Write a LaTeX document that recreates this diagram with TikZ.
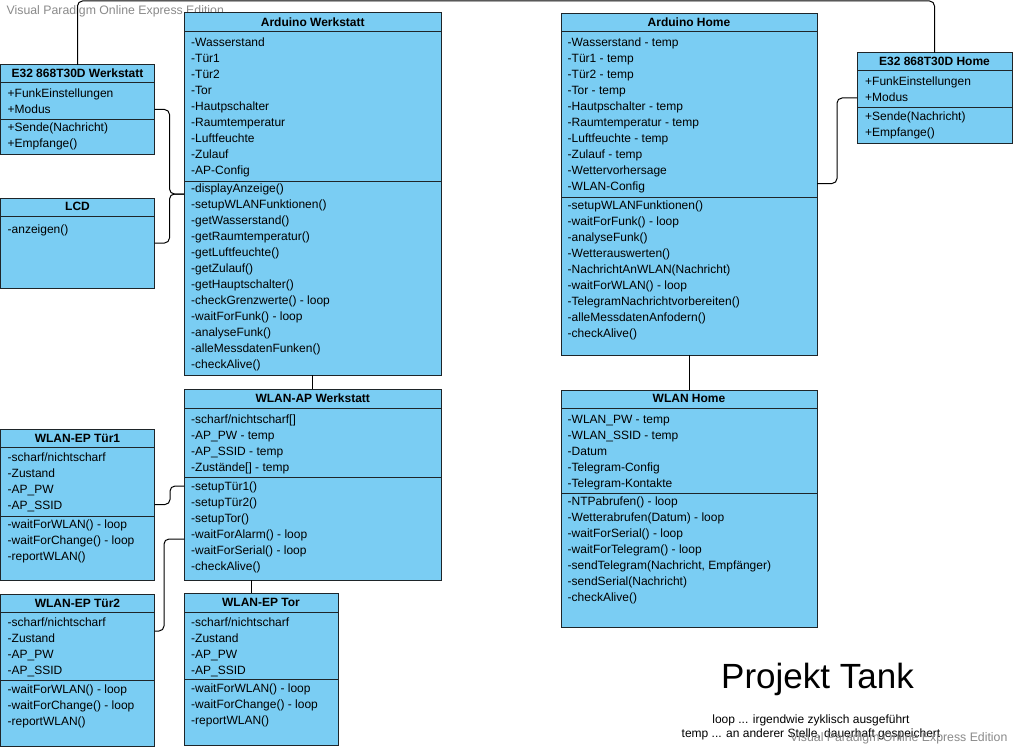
\documentclass[tikz,border=0pt]{standalone}
\usepackage{fontspec}
\setmainfont{Liberation Sans}
\usetikzlibrary{calc}
\definecolor{boxfill}{HTML}{7ACDF3}
\definecolor{boxline}{HTML}{1E2529}
\definecolor{wm}{HTML}{8A8A8A}
\tikzset{
  umlbox/.style={draw=boxline, line width=1pt, fill=boxfill, rectangle, anchor=north west, inner sep=0pt, outer sep=0pt},
  sepline/.style={draw=boxline, line width=1pt},
  txt/.style={anchor=base west, inner sep=0pt, font=\fontsize{12}{14}\selectfont},
  hdr/.style={anchor=base, inner sep=0pt, font=\fontsize{12}{14}\selectfont\bfseries},
  conn/.style={draw=black, line width=1pt, rounded corners=5pt},
  wmark/.style={text=wm, inner sep=0pt, font=\fontsize{12.3}{14}\selectfont},
}
\newcommand\clslines[4]{%
  \foreach \t [count=\i] in {#4} {\node[txt, name=#1\i] at (#2, {#3+16*(\i-1)}) {\t};}%
}
\newcommand\clsbox[9]{% name, x, ytop, w, h, headersep, attrsep, title, titlebaseline
  \node[umlbox, minimum width=#4pt, minimum height=#5pt] (#1) at (#2,#3) {};
  \draw[sepline] (#2,#6) -- ++(#4,0);
  \draw[sepline] (#2,#7) -- ++(#4,0);
  \node[hdr] (#1-t) at ({#2+#4/2}, #9) {#8};
}
\begin{document}
\begin{tikzpicture}[x=1pt, y=-1pt]
\useasboundingbox (0,0) rectangle (1014,749);
\fill[white] (0,0) rectangle (1014,749);

% watermarks
\node[wmark, anchor=base west] (wm1) at (6.5,15) {Visual Paradigm Online Express Edition};

% connectors (drawn first)
\coordinate (top) at (500,1);
\coordinate (awin) at (184,194);
\coordinate (wapin1) at (184,486);
\coordinate (wapin2) at (184,539);
\coordinate (t2out) at (154.5,631);
\coordinate (wapout) at (251.5,580);
\coordinate (torin) at (251.5,593);
\coordinate (ahout) at (817,183.5);

% boxes
\clsbox{e32w}{0.5}{65}{154}{89}{82.5}{119.5}{E32 868T30D Werkstatt}{77.7}
\clslines{e32wl}{7.5}{97.7}{+FunkEinstellungen,+Modus}
\clslines{e32wm}{7.5}{131.7}{+Sende(Nachricht),+Empfange()}

\node[umlbox, minimum width=154pt, minimum height=90pt] (lcd) at (0.5,198) {};
\draw[sepline] (0.5,216) -- ++(154,0);
\node[hdr] (lcd-t) at (77.5,210.7) {LCD};
\clslines{lcdm}{7.5}{233}{-anzeigen()}

\clsbox{aw}{184}{13}{257.5}{362}{32}{181}{Arduino Werkstatt}{26.7}
\clslines{awa}{191}{46.2}{-Wasserstand,-Tür1,-Tür2,-Tor,-Hautpschalter,-Raumtemperatur,-Luftfeuchte,-Zulauf,-AP-Config}
\clslines{awm}{191}{192}{-displayAnzeige(),-setupWLANFunktionen(),-getWasserstand(),-getRaumtemperatur(),-getLuftfeuchte(),-getZulauf(),-getHauptschalter(),-checkGrenzwerte() - loop,-waitForFunk() - loop,-analyseFunk(),-alleMessdatenFunken(),-checkAlive()}

\clsbox{wap}{184}{389}{257.5}{191}{408}{477}{WLAN-AP Werkstatt}{402.7}
\clslines{wapa}{191}{423.2}{-scharf/nichtscharf[],-AP\_PW - temp,-AP\_SSID - temp,-Zustände[] - temp}
\clslines{wapm}{191}{490}{-setupTür1(),-setupTür2(),-setupTor(),-waitForAlarm() - loop,-waitForSerial() - loop,-checkAlive()}

\clsbox{t1}{0.5}{429}{154}{151}{447}{516}{WLAN-EP Tür1}{442}
\clslines{t1a}{7.5}{461.5}{-scharf/nichtscharf,-Zustand,-AP\_PW,-AP\_SSID}
\clslines{t1m}{7.5}{528.2}{-waitForWLAN() - loop,-waitForChange() - loop,-reportWLAN()}

\clsbox{t2}{0.5}{594}{154}{152}{612}{680}{WLAN-EP Tür2}{607}
\clslines{t2a}{7.5}{626.5}{-scharf/nichtscharf,-Zustand,-AP\_PW,-AP\_SSID}
\clslines{t2m}{7.5}{693.2}{-waitForWLAN() - loop,-waitForChange() - loop,-reportWLAN()}

\clsbox{tor}{184}{593}{154}{152}{612}{679}{WLAN-EP Tor}{606}
\clslines{tora}{191}{626}{-scharf/nichtscharf,-Zustand,-AP\_PW,-AP\_SSID}
\clslines{torm}{191}{692}{-waitForWLAN() - loop,-waitForChange() - loop,-reportWLAN()}

\clsbox{ah}{561}{14}{256}{341}{32}{197}{Arduino Home}{27}
\clslines{aha}{567.5}{46.8}{-Wasserstand - temp,-Tür1 - temp,-Tür2 - temp,-Tor - temp,-Hautpschalter - temp,-Raumtemperatur - temp,-Luftfeuchte - temp,-Zulauf - temp,-Wettervorhersage,-WLAN-Config}
\clslines{ahm}{567.5}{209.2}{-setupWLANFunktionen(),-waitForFunk() - loop,-analyseFunk(),-Wetterauswerten(),-NachrichtAnWLAN(Nachricht),-waitForWLAN() - loop,-TelegramNachrichtvorbereiten(),-alleMessdatenAnfodern(),-checkAlive()}

\clsbox{e32h}{857}{53}{155}{90}{71}{108}{E32 868T30D Home}{66}
\clslines{e32ha}{865}{86}{+FunkEinstellungen,+Modus}
\clslines{e32hm}{865}{120.2}{+Sende(Nachricht),+Empfange()}

\clsbox{wh}{561}{390}{256}{237}{408}{493}{WLAN Home}{402.7}
\clslines{wha}{567.5}{423.2}{-WLAN\_PW - temp,-WLAN\_SSID - temp,-Datum,-Telegram-Config,-Telegram-Kontakte}
\clslines{whm}{567.5}{505}{-NTPabrufen() - loop,-Wetterabrufen(Datum) - loop,-waitForSerial() - loop,-waitForTelegram() - loop,{-sendTelegram(Nachricht, Empfänger)},-sendSerial(Nachricht),-checkAlive()}

% connectors
\draw[conn] (e32w.north) -- (77.5,1) -- (934.5,1) -- (e32h.north);
\draw[conn] (e32w.east) -- (169.5,109.5) -- (169.5,194) -- (awin);
\draw[conn] (lcd.east) -- (169.5,243) -- (169.5,194) -- (awin);
\draw[conn] (aw.south) -- (wap.north);
\draw[conn] (t1.east) -- (170,504.5) -- (170,486) -- (wapin1);
\draw[conn] (t2out) -- (164,631) -- (164,539) -- (wapin2);
\draw[conn] (wapout) -- (torin);
\draw[conn] (ahout) -- (837,183.5) -- (837,98) -- (e32h.west);
\draw[conn] (ah.south) -- (wh.north);

% legend
\node[anchor=base, inner sep=0pt, font=\fontsize{35}{40}\selectfont] (title) at (817.5,688) {Projekt Tank};
\node[anchor=base, inner sep=0pt, font=\fontsize{12}{14}\selectfont] (leg1) at (811,723) {loop ... irgendwie zyklisch ausgeführt};
\node[anchor=base, inner sep=0pt, font=\fontsize{12}{14}\selectfont] (leg2) at (811,737.5) {temp ... an anderer Stelle, dauerhaft gespeichert};
\node[wmark, anchor=base west] (wm2) at (790,741.5) {Visual Paradigm Online Express Edition};
\end{tikzpicture}
\end{document}
